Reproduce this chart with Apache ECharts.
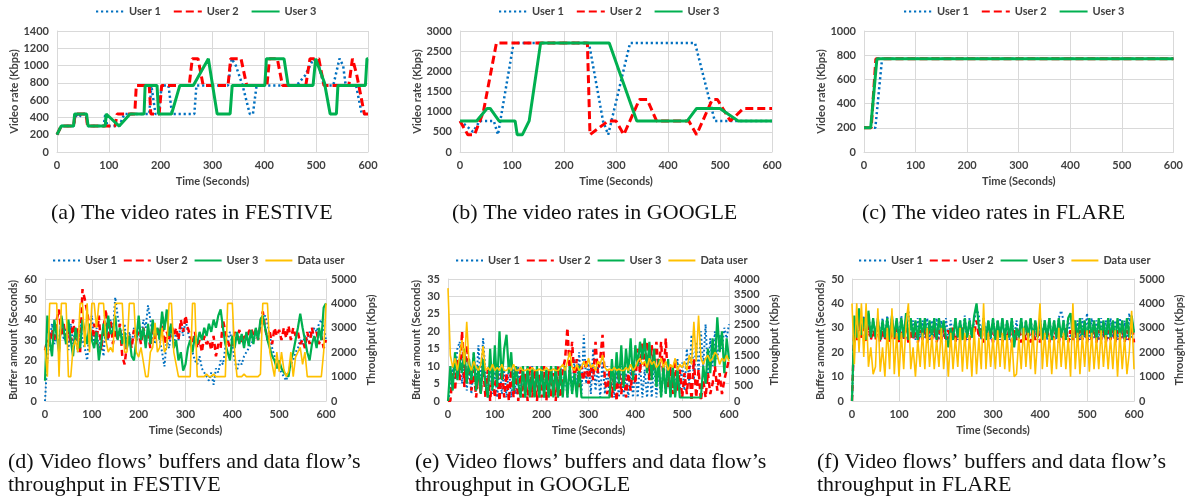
<!DOCTYPE html>
<html><head><meta charset="utf-8">
<script src="https://cdn.jsdelivr.net/npm/echarts@6/dist/echarts.min.js"></script>
<style>html,body{margin:0;padding:0;background:#fff}#c{width:1186px;height:500px}</style>
</head><body><div id="c"></div>
<script>
// ---------- Top row: video rates (time s, Kbps) ----------
const fesU1 = [[0,200],[8,300],[32,300],[36,440],[42,400],[48,440],[56,440],[59,300],[90,300],[93,430],[97,300],[120,300],[130,440],[178,440],[182,770],[190,440],[196,440],[202,770],[215,770],[222,440],[265,440],[269,770],[330,770],[337,1080],[345,1000],[358,770],[372,440],[378,440],[385,770],[462,770],[478,880],[495,1080],[505,1000],[515,770],[533,770],[545,1080],[552,1000],[557,770],[577,770],[588,440],[600,440]];
const fesU2 = [[0,200],[8,300],[32,300],[35,440],[56,440],[59,300],[112,300],[116,440],[150,440],[153,770],[178,770],[181,440],[197,440],[202,770],[255,770],[261,1080],[272,1080],[282,770],[330,770],[335,1080],[355,1080],[366,770],[405,770],[410,1080],[425,1080],[435,770],[480,770],[488,1080],[505,1080],[515,770],[563,770],[570,1080],[578,900],[593,440],[600,440]];
const fesU3 = [[0,200],[8,300],[32,300],[34,440],[57,440],[60,300],[93,300],[95,440],[120,300],[141,440],[168,440],[170,770],[193,770],[196,440],[221,440],[237,770],[263,770],[292,1080],[309,440],[334,440],[338,770],[401,770],[404,1080],[438,1080],[446,770],[494,770],[499,1080],[516,800],[527,440],[539,440],[542,770],[595,770],[598,1080],[600,1080]];

const gooU1 = [[0,770],[12,650],[25,500],[38,770],[65,770],[73,430],[103,2700],[248,2700],[275,770],[285,430],[327,2700],[452,2700],[490,770],[600,770]];
const gooU2 = [[0,770],[15,430],[28,430],[45,1000],[70,2700],[245,2700],[250,430],[285,770],[300,770],[315,430],[345,1300],[360,1300],[378,770],[440,770],[455,430],[485,1300],[495,1300],[520,770],[545,1080],[600,1080]];
const gooU3 = [[0,770],[32,770],[52,1080],[58,1080],[75,770],[106,770],[110,430],[120,430],[133,770],[155,2700],[287,2700],[340,770],[437,770],[455,1080],[500,1080],[535,770],[600,770]];

const flaU1 = [[0,200],[22,200],[35,770],[600,770]];
const flaU2 = [[0,200],[14,200],[23,770],[600,770]];
const flaU3 = [[0,200],[13,200],[25,770],[600,770]];

// ---------- Bottom row: buffers (s) and data throughput (Kbps), one value every 5 s ----------
const tStep = 5;
const fesBuf1 = [0,20,30,38,28,35,25,40,30,36, 25,38,28,36,24,40,30,26,20,35, 42,28,36,25,32,22,38,30,40,34, 51,42,36,30,38,26,34,28,36,30, 38,30,40,36,47,40,32,28,35,30, 24,17,30,26,36,28,34,30,38,32, 40,34,30,24,20,18,22,16,14,12, 10,14,8,16,14,20,18,26,30,34, 28,20,15,20,18,22,24,26,28,30, 32,34,36,40,42,38,32,26,22,18, 16,14,12,10,14,18,20,24,26,30, 28,32,30,34,32,36,34,38,40,36, 30];
const fesBuf2 = [25,30,28,35,30,40,45,32,38,28, 35,28,40,30,36,24,55,50,44,36, 30,38,28,42,25,36,45,30,40,28, 35,30,38,22,18,28,32,26,35,30, 34,28,36,30,33,26,38,30,36,32, 40,28,34,30,38,32,36,30,40,34, 42,36,32,28,34,26,30,24,32,28, 30,25,32,22,28,26,40,34,30,26, 28,34,30,35,28,33,30,34,36,32, 35,30,38,44,36,30,34,28,36,32, 35,30,36,31,37,30,36,32,34,28, 30,26,34,28,36,30,34,28,32,26, 30];
const fesBuf3 = [10,42,30,22,40,32,24,42,35,28, 40,30,22,36,30,26,40,34,28,38, 30,26,34,20,28,38,30,42,33,35, 42,30,36,28,34,26,32,22,20,30, 42,30,36,26,38,28,40,32,36,30, 44,35,45,32,38,26,30,20,24,15, 18,26,30,24,32,28,34,30,36,32, 38,34,40,36,42,45,36,28,24,20, 32,26,34,28,33,26,34,27,35,28, 36,30,40,42,36,30,26,22,20,16, 20,16,14,13,12,20,24,30,36,43, 36,30,24,20,28,32,26,36,30,46, 48];
const fesData = [2200,1000,4000,4000,4000,4000,1000,4000,4000,4000, 1000,1000,2200,2500,2000,4000,4000,2200,4000,2000, 4000,4000,3000,4000,4000,4000,2500,2000,2200,2000, 4000,4000,4000,4000,2000,2000,4000,4000,4000,2000, 1800,2200,1600,1000,1000,2000,2200,3200,2000,2200, 3000,2000,2200,4000,4000,2000,1500,1000,1000,1000, 1000,1000,1000,4000,4000,1000,1000,1000,1000,1100, 1000,1000,1100,1000,1000,1000,1000,1000,4000,4000, 4000,2000,1000,1000,1000,1100,1000,1000,1000,1000, 1000,1000,1100,4000,4000,4000,2000,1500,1000,2000, 1200,2000,1300,1000,1200,2000,1000,1800,2000,2200, 1500,2000,1000,1000,1000,1000,1000,1000,1000,2000, 4000];

const gooBuf1 = [0,3,10,6,15,17,5,12,3,10, 2,14,4,16,5,18,8,1,10,2, 9,1,10,2,9,1,10,1,9,2, 10,1,9,1,10,2,10,1,9,1, 10,1,9,1,10,2,9,1,10,2, 8,1,10,2,12,3,14,2,19,5, 12,2,15,3,10,1,12,2,10,1, 8,1,9,1,10,1,8,1,9,1, 10,1,11,1,9,1,10,1,11,1, 9,1,10,2,11,1,10,2,12,3, 11,3,15,5,19,6,17,8,20,10, 22,8,18,10,20,12,19,15,21,18, 22];
const gooBuf2 = [0,0,8,3,12,6,20,4,16,10, 3,9,1,8,2,10,1,9,0,8, 1,9,0,10,1,8,0,9,1,10, 0,9,1,8,0,10,1,9,0,8, 1,10,0,9,1,8,0,10,1,9, 12,21,8,17,6,12,4,10,6,12, 5,10,6,17,8,12,19,6,2,9, 1,8,0,10,2,9,1,8,3,10, 5,15,8,17,10,17,6,16,9,17, 8,17,6,18,4,10,2,12,3,9, 1,8,2,10,0,12,1,9,0,6, 1,8,2,5,10,3,8,2,6,9, 12];
const gooBuf3 = [0,10,3,14,6,12,8,15,5,12, 6,14,3,10,2,12,5,1,15,3, 16,4,20,6,15,19,8,14,3,10, 5,1,10,1,10,1,9,1,10,1, 10,1,9,1,10,1,10,1,9,1, 10,1,10,2,8,1,10,1,1,1, 1,1,1,1,1,1,1,1,1,1, 12,3,14,5,16,4,15,8,18,6, 16,10,17,12,18,8,17,6,15,4, 12,1,10,2,12,1,10,1,9,1, 1,1,1,1,1,1,1,1,1,10, 5,15,8,18,10,24,14,20,8,18, 12];
const gooData = [3700,1500,1100,1400,1000,1500,2000,1200,2600,1200, 1000,1300,1100,1000,1200,1800,1000,1100,1000,1200, 1000,1100,1000,1200,1000,1000,1100,1000,1200,1000, 1000,1100,1000,1000,1050,1000,1100,1000,1000,1050, 1000,1000,1100,1000,1000,1050,1000,1000,1100,1200, 1000,1300,1600,1100,1000,1200,1000,1100,1300,1100, 1400,1100,1200,1000,1300,1200,1500,1100,1000,1050, 1000,1100,1000,1050,1000,1000,1100,1000,1200,1000, 1100,1300,1400,1200,1300,1100,1400,1200,1300,1100, 1200,1400,1100,1300,1000,1200,1100,1400,1000,1200, 1100,1300,1000,1500,1200,2600,1300,2800,1400,1200, 1400,1500,1300,1400,1600,1500,1200,1400,1300,1500, 1300];

const flaBuf1 = [0,30,28,37,26,35,25,36,27,33, 27,33,26,34,25,35,26,34,25,33, 26,35,25,34,37,26,33,25,34,26, 33,26,34,25,33,26,34,25,33,26, 34,25,33,26,34,25,33,26,35,25, 34,26,33,38,35,25,34,26,33,25, 34,26,33,25,34,26,33,25,34,26, 33,25,34,26,33,25,34,26,33,25, 34,26,33,25,34,26,33,25,34,37, 33,26,34,25,35,26,33,25,34,26, 36,25,34,26,33,25,34,26,33,25, 34,26,33,25,34,26,33,25,36,26, 30];
const flaBuf2 = [0,30,25,33,26,30,24,31,25,29, 25,30,24,29,25,30,24,29,25,30, 24,29,25,30,24,29,25,31,24,29, 25,30,24,29,25,30,24,29,25,30, 24,29,25,30,24,29,25,30,24,29, 25,30,28,33,26,30,24,29,25,30, 24,29,25,30,24,29,25,30,24,29, 25,30,24,29,25,30,24,29,25,30, 24,29,25,30,24,29,25,30,24,29, 25,30,24,29,25,30,24,29,25,30, 24,29,25,30,24,29,25,30,24,29, 25,30,24,29,25,30,24,29,25,33, 24];
const flaBuf3 = [0,35,26,38,27,34,25,37,26,34, 26,34,25,33,26,34,25,35,26,34, 25,34,26,36,25,34,26,33,25,34, 26,34,25,33,26,34,25,34,27,33, 26,22,30,25,34,26,33,25,34,26, 33,26,35,40,30,26,34,25,33,26, 34,25,33,26,34,25,33,26,34,22, 30,26,34,25,33,26,34,25,33,26, 34,25,33,26,34,25,33,26,34,26, 33,25,34,36,26,33,25,34,26,33, 25,34,26,33,25,34,26,33,25,34, 26,33,25,34,26,33,25,34,26,35, 28];
const flaData = [4000,1500,4000,2000,4000,1800,4000,1400,2200,1100, 1400,3800,1200,2200,1000,3000,1300,3800,1100,2800, 1000,2800,1300,3200,4000,1300,2200,1000,2500,1400, 2800,1300,3000,1400,2700,1300,2500,1400,3000,1300, 2500,1000,2800,1300,2600,1400,3000,1200,2800,1300, 2700,1000,3000,1100,2600,1300,4000,1300,2800,1400, 2600,1300,2900,1400,2800,1300,2700,1200,2600,1000, 1100,2600,1300,3000,1400,2800,1300,2900,1100,2600, 4000,1300,2800,1400,2700,1100,2600,1300,3000,1400, 2800,1300,2600,1000,4000,1300,2800,1100,2700,1400, 2900,1200,2800,1300,2600,1300,2900,1400,2700,1300, 2600,1300,2900,1000,2800,1300,2600,1100,2000,3700, 1300];

// ---------- Texts ----------
const userNames = ['User 1','User 2','User 3'];
const dataName = 'Data user';
const xTitle = 'Time (Seconds)';
const rateTitle = 'Video rate (Kbps)';
const bufTitle = 'Buffer amount (Seconds)';
const thrTitle = 'Throughput (Kbps)';
const captionsTop = ['(a) The video rates in FESTIVE','(b) The video rates in GOOGLE','(c) The video rates in FLARE'];
const captionsBot = [['(d) Video flows’ buffers and data flow’s','throughput in FESTIVE'],['(e) Video flows’ buffers and data flow’s','throughput in GOOGLE'],['(f) Video flows’ buffers and data flow’s','throughput in FLARE']];

// ---------- Build ----------
const FONT = 'Lato, "Liberation Sans", sans-serif';
const TXT = '#404040';
const GRIDC = '#d9d9d9';
const C = {u1:'#0070C0', u2:'#FF0000', u3:'#00B050', d:'#FFC000'};
const step = arr => arr.map((v,i)=>[i*tStep, v]);
const plain = v => String(v);

const grids = [
  {left:57, top:31, width:311, height:121},
  {left:460, top:31, width:312, height:121},
  {left:864, top:31, width:311, height:121},
  {left:45, top:279, width:281, height:122},
  {left:448, top:279, width:281, height:122},
  {left:852, top:279, width:282, height:122}
];
const lbl = {color:TXT, fontWeight:'bold', fontSize:11, fontFamily:FONT, formatter:plain};
const nameTS = {color:TXT, fontWeight:'bold', fontSize:11, fontFamily:FONT};

const xAxis = grids.map((g,i)=>({
  type:'value', gridIndex:i, min:0, max:600, interval:100,
  name:xTitle, nameLocation:'middle', nameGap:24, nameTextStyle:nameTS,
  axisLine:{show:true, lineStyle:{color:GRIDC}}, axisTick:{show:false},
  axisLabel:Object.assign({margin:8}, lbl),
  splitLine:{show:true, lineStyle:{color:GRIDC}}
}));
function yA(grid, max, interval, opts){
  return Object.assign({
    type:'value', gridIndex:grid, min:0, max:max, interval:interval,
    nameLocation:'middle', nameRotate:90, nameTextStyle:nameTS,
    axisLine:{show:true, lineStyle:{color:GRIDC}}, axisTick:{show:false},
    axisLabel:Object.assign({margin:8}, lbl),
    splitLine:{show:true, lineStyle:{color:GRIDC}}
  }, opts);
}
const rightOpts = {position:'right', splitLine:{show:false}, axisLabel:Object.assign({}, lbl, {margin:5})};
const yAxis = [
  yA(0,1400,200,{name:rateTitle, nameGap:37}),
  yA(1,3000,500,{name:rateTitle, nameGap:37}),
  yA(2,1000,200,{name:rateTitle, nameGap:37}),
  yA(3,60,10,{name:bufTitle, nameGap:26}),
  yA(3,5000,1000,Object.assign({name:thrTitle, nameGap:40}, rightOpts)),
  yA(4,35,5,{name:bufTitle, nameGap:26}),
  yA(4,4000,500,Object.assign({name:thrTitle, nameGap:40}, rightOpts)),
  yA(5,50,10,{name:bufTitle, nameGap:26}),
  yA(5,5000,1000,Object.assign({name:thrTitle, nameGap:40}, rightOpts))
];

function ln(name, data, xi, yi, color, width, type, z){
  return {name, type:'line', data, xAxisIndex:xi, yAxisIndex:yi, symbol:'none', showSymbol:false,
    lineStyle:{color, width, type}, itemStyle:{color}, z, animation:false, silent:true};
}
const DOT_T = [2.2,2.8], DASH_T = [8,4], DOT_B = [1.8,2.4], DASH_B = [6,4];
const series = [];
[[fesU1,fesU2,fesU3],[gooU1,gooU2,gooU3],[flaU1,flaU2,flaU3]].forEach((s,i)=>{
  series.push(ln(userNames[0], s[0], i, i, C.u1, 2.5, DOT_T, 3));
  series.push(ln(userNames[1], s[1], i, i, C.u2, 3, DASH_T, 4));
  series.push(ln(userNames[2], s[2], i, i, C.u3, 3, 'solid', 5));
});
[[fesBuf1,fesBuf2,fesBuf3,fesData],[gooBuf1,gooBuf2,gooBuf3,gooData],[flaBuf1,flaBuf2,flaBuf3,flaData]].forEach((s,i)=>{
  const gi = 3+i, yb = 3+2*i, yt = 4+2*i;
  series.push(ln(userNames[0], step(s[0]), gi, yb, C.u1, 2, DOT_B, 3));
  series.push(ln(userNames[1], step(s[1]), gi, yb, C.u2, 2.5, DASH_B, 4));
  series.push(ln(userNames[2], step(s[2]), gi, yb, C.u3, 2.2, 'solid', 5));
  series.push(ln(dataName, step(s[3]), gi, yt, C.d, 1.6, 'solid', 6));
});

const legTS = {color:TXT, fontWeight:'bold', fontSize:11, fontFamily:FONT};
const legLeftTop = [90,493,898], legLeftBot = [47,450,853];
const legend = [];
legLeftTop.forEach(l=>legend.push({left:l, top:1, width:400, data:userNames, itemWidth:28, itemHeight:12, itemGap:12, itemStyle:{opacity:0}, textStyle:legTS, selectedMode:false}));
legLeftBot.forEach(l=>legend.push({left:l, top:250, width:400, data:userNames.concat([dataName]), itemWidth:27, itemHeight:12, itemGap:6, itemStyle:{opacity:0}, textStyle:legTS, selectedMode:false}));

const capStyle = {fill:'#111', fontSize:22, fontFamily:'"Liberation Serif", "DejaVu Serif", serif', verticalAlign:'middle', align:'left'};
const graphic = [];
const capTopX = [51,452,862];
captionsTop.forEach((t,i)=>graphic.push({type:'text', x:capTopX[i], y:213, style:Object.assign({text:t}, capStyle)}));
const capBotX = [8,415,817];
captionsBot.forEach((t,i)=>{
  graphic.push({type:'text', x:capBotX[i], y:462, style:Object.assign({text:t[0]}, capStyle)});
  graphic.push({type:'text', x:capBotX[i], y:485, style:Object.assign({text:t[1]}, capStyle)});
});

const chart = echarts.init(document.getElementById('c'), null, {renderer:'canvas'});
chart.setOption({animation:false, backgroundColor:'#fff', grid:grids, xAxis, yAxis, series, legend, graphic});
</script></body></html>
